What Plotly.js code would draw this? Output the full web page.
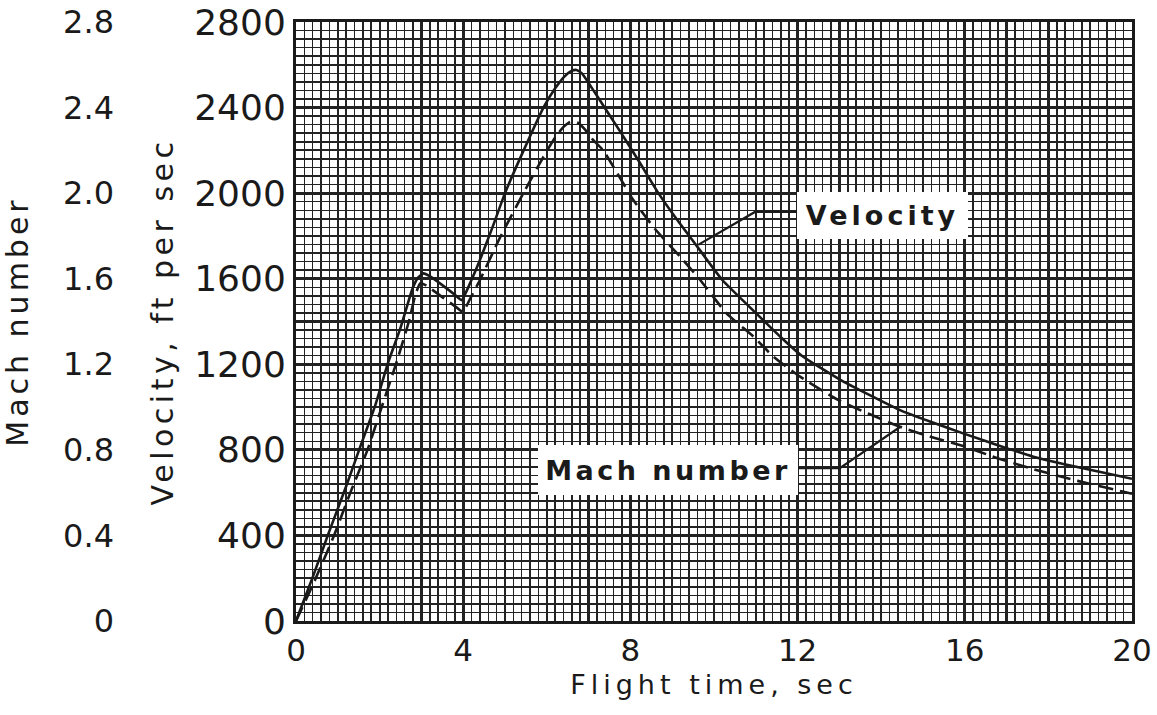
<!DOCTYPE html>
<html><head><meta charset="utf-8">
<script src="https://cdn.plot.ly/plotly-3.0.1.min.js"></script>
<style>html,body{margin:0;padding:0;background:#fff;} #chart{width:1157px;height:715px;}</style>
</head><body><div id="chart"></div>
<script>
// Velocity, ft/sec (solid curve)
const timeVel = [0, 0.4, 0.76, 1.2, 1.51, 1.9, 2.19, 2.5, 2.79, 2.92, 3.05, 3.2, 3.5, 3.8, 3.96, 4.2, 4.4, 4.7, 5.0, 5.4, 5.92, 6.2, 6.42, 6.58, 6.71, 6.84, 7.0, 7.2, 7.75, 8.2, 8.67, 9.1, 9.6, 10.2, 11.0, 11.58, 12.1, 13.0, 14.45, 15.2, 15.96, 17.0, 17.64, 18.8, 20];
const velocity = [0, 205, 400, 630, 800, 1010, 1200, 1370, 1555, 1605, 1625, 1612, 1570, 1525, 1500, 1595, 1687, 1840, 2000, 2180, 2400, 2490, 2545, 2570, 2576, 2560, 2515, 2455, 2290, 2150, 2000, 1880, 1750, 1594, 1440, 1330, 1240, 1130, 986, 930, 877, 808, 768, 715, 665];
// Mach number (dashed curve)
const timeMach = [0, 0.45, 0.91, 1.3, 1.71, 2.05, 2.39, 2.7, 2.85, 2.97, 3.1, 3.5, 3.8, 3.99, 4.2, 4.4, 4.9, 5.44, 5.92, 6.2, 6.4, 6.53, 6.63, 6.75, 6.9, 7.1, 7.35, 8.07, 8.6, 9.19, 9.67, 10.3, 10.94, 11.42, 12.06, 13.0, 14.45, 15.2, 15.96, 16.8, 17.64, 18.7, 19.8, 20];
const mach = [0, 0.19, 0.40, 0.60, 0.80, 1.00, 1.20, 1.40, 1.52, 1.578, 1.57, 1.514, 1.472, 1.446, 1.52, 1.594, 1.80, 2.00, 2.17, 2.26, 2.31, 2.33, 2.337, 2.328, 2.30, 2.25, 2.20, 1.968, 1.83, 1.703, 1.594, 1.438, 1.33, 1.236, 1.142, 1.03, 0.908, 0.86, 0.818, 0.76, 0.71, 0.655, 0.604, 0.595];
// Tick labels
const timeTicks = [0, 4, 8, 12, 16, 20];
const timeTickText = ["0", "4", "8", "12", "16", "20"];
const velTicks = [0, 400, 800, 1200, 1600, 2000, 2400, 2800];
const velTickText = ["0", "400", "800", "1200", "1600", "2000", "2400", "2800"];
const machTicks = [0, 0.4, 0.8, 1.2, 1.6, 2.0, 2.4, 2.8];
const machTickText = ["0", "0.4", "0.8", "1.2", "1.6", "2.0", "2.4", "2.8"];

const INK = '#1a1a1a';
const GRID = '#222';
const FONT = 'DejaVu Sans, Verdana, sans-serif';
const PLOT_W = 1132;
const LEFT = 296 / PLOT_W;

const traces = [
  {x: timeVel, y: velocity, type: 'scatter', mode: 'lines', name: 'Velocity',
   xaxis: 'x', yaxis: 'y', line: {color: INK, width: 2.6, shape: 'spline', smoothing: 0.5}, hoverinfo: 'x+y'},
  {x: timeMach, y: mach, type: 'scatter', mode: 'lines', name: 'Mach number',
   xaxis: 'x2', yaxis: 'y3', line: {color: INK, width: 2.6, dash: '15px,7px', shape: 'spline', smoothing: 0.5}, hoverinfo: 'x+y'}
];

const spaced = (t, ls) => '<span style="letter-spacing:' + ls + 'px">' + t + '</span>';

const layout = {
  width: 1157, height: 715,
  margin: {l: 0, r: 25, t: 22, b: 94, pad: 0},
  paper_bgcolor: '#fff', plot_bgcolor: '#fff',
  showlegend: false,
  font: {family: FONT, color: INK},
  xaxis: {
    domain: [LEFT, 1], range: [0, 20], tickmode: 'array', tickvals: timeTicks, ticktext: timeTickText,
    showgrid: true, gridcolor: GRID, gridwidth: 3,
    minor: {dtick: 0.2, showgrid: true, gridcolor: GRID, gridwidth: 1.5},
    zeroline: false, showline: true, mirror: true, linecolor: INK, linewidth: 3,
    ticks: '', ticklabelstandoff: 0,
    tickfont: {family: FONT, size: 31, color: INK},
    title: {text: spaced('Flight time, sec', 5), font: {family: FONT, size: 27, color: INK}, standoff: 8}
  },
  xaxis2: {
    overlaying: 'x', anchor: 'y3', range: [0, 20], dtick: 1, tick0: 0,
    showgrid: true, gridcolor: GRID, gridwidth: 2.2,
    showticklabels: false, ticks: '', zeroline: false, showline: false
  },
  yaxis: {
    range: [0, 2800], tickmode: 'array', tickvals: velTicks, ticktext: velTickText,
    showgrid: true, gridcolor: GRID, gridwidth: 3,
    minor: {dtick: 40, showgrid: true, gridcolor: GRID, gridwidth: 1.5},
    zeroline: false, showline: true, mirror: true, linecolor: INK, linewidth: 3,
    ticks: '', ticklabelstandoff: 0,
    tickfont: {family: FONT, size: 36, color: INK},
    title: {text: spaced('Velocity, ft per sec', 4.5), font: {family: FONT, size: 30, color: INK}, standoff: 12}
  },
  yaxis3: {
    overlaying: 'y', anchor: 'free', position: 116 / PLOT_W, side: 'left',
    range: [0, 2.8], tickmode: 'array', tickvals: machTicks, ticktext: machTickText,
    showgrid: false,
    minor: {dtick: 0.2, tick0: 0, showgrid: true, gridcolor: GRID, gridwidth: 2.2},
    zeroline: false, showline: false, ticks: '', ticklabelstandoff: 2,
    tickfont: {family: FONT, size: 32, color: INK},
    title: {text: spaced('Mach number', 4), font: {family: FONT, size: 30, color: INK}, standoff: 24}
  },
  annotations: [
    {xref: 'x', yref: 'y', x: 14.03, y: 1895, text: spaced('Velocity', 4), showarrow: false,
     xanchor: 'center', yanchor: 'middle', width: 171, height: 47, bgcolor: '#fff',
     borderwidth: 0, borderpad: 0, font: {family: FONT, size: 27, color: INK, weight: 'bold'}},
    {xref: 'x', yref: 'y', x: 8.90, y: 706, text: spaced('Mach number', 3.5), showarrow: false,
     xanchor: 'center', yanchor: 'middle', width: 260, height: 50, bgcolor: '#fff',
     borderwidth: 0, borderpad: 0, font: {family: FONT, size: 27, color: INK, weight: 'bold'}}
  ],
  shapes: [
    {type: 'path', xref: 'x', yref: 'y', path: 'M 11.99 1912 L 10.98 1912 L 9.62 1758',
     line: {color: INK, width: 2.2}},
    {type: 'path', xref: 'x', yref: 'y', path: 'M 11.99 714 L 13.01 714 L 14.45 907',
     line: {color: INK, width: 2.2}}
  ]
};

Plotly.newPlot('chart', traces, layout, {staticPlot: true, displayModeBar: false});
</script>
</body></html>
